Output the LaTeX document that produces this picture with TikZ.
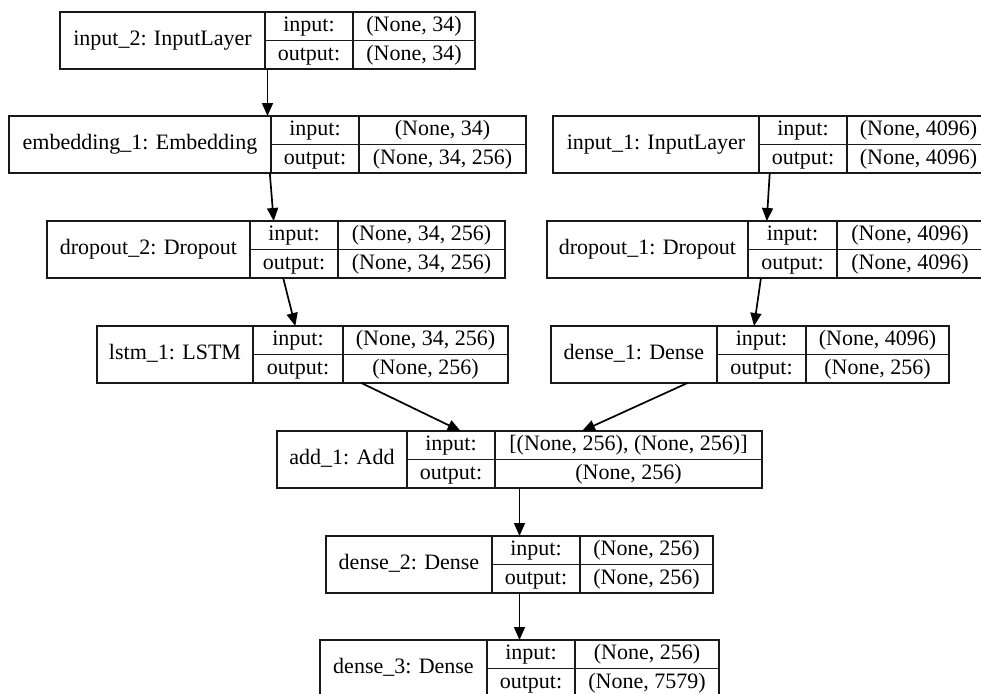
\documentclass[tikz,border=0pt]{standalone}
\usepackage{fontspec}
\setmainfont{Liberation Serif}
\usepackage{tikz}
\usetikzlibrary{arrows.meta}

% one keras layer record: id, left, divider 1, divider 2, right, top, name, input, output
\newcommand{\layerrec}[9]{%
  \node[layerbox, minimum width={(#5-#2)*0.5pt}] (#1) at ({(#2+#5)/2},{#6+28.5}) {};
  \draw[rule] (#3,#6) -- (#3,#6+57) (#4,#6) -- (#4,#6+57) (#3,#6+28.5) -- (#5,#6+28.5);
  \node[celltext] (#1-name) at ({(#2+#3)/2},{#6+28.5}) {#7};
  \node[celltext] (#1-ik) at ({(#3+#4)/2},{#6+14.25}) {input:};
  \node[celltext] (#1-iv) at ({(#4+#5)/2},{#6+14.25}) {#8};
  \node[celltext] (#1-ok) at ({(#3+#4)/2},{#6+42.75}) {output:};
  \node[celltext] (#1-ov) at ({(#4+#5)/2},{#6+42.75}) {#9};
}

\begin{document}
\begin{tikzpicture}[x=0.5pt, y=-0.5pt, >={Triangle[length=6.5pt, width=5.5pt]},
    rule/.style={line width=0.85pt, draw=black!90},
    layerbox/.style={rule, rectangle, minimum height=28.5pt, inner sep=0pt, outer sep=0pt},
    celltext/.style={inner sep=0pt, text height=7.6pt, text depth=2.3pt, font=\fontsize{11}{13}\selectfont},
    flow/.style={->, rule, draw=black}]
    \useasboundingbox (0,0) rectangle (981,693);
    \clip (0,0) rectangle (981,693);

    % Caption branch
    \layerrec{inputB}{60}{265}{353}{475}{12}{input\_2: InputLayer}{(None, 34)}{(None, 34)}
    \layerrec{embed}{9}{271}{359}{526}{116}{embedding\_1: Embedding}{(None, 34)}{(None, 34, 256)}
    \layerrec{dropB}{47}{250}{338}{505}{221}{dropout\_2: Dropout}{(None, 34, 256)}{(None, 34, 256)}
    \layerrec{lstm}{97}{253}{343}{508}{326}{lstm\_1: LSTM}{(None, 34, 256)}{(None, 256)}

    % Image feature branch
    \layerrec{inputA}{553}{759}{847}{990}{116}{input\_1: InputLayer}{(None, 4096)}{(None, 4096)}
    \layerrec{dropA}{547}{748}{837}{983}{221}{dropout\_1: Dropout}{(None, 4096)}{(None, 4096)}
    \layerrec{denseA}{551}{717}{806}{949}{326}{dense\_1: Dense}{(None, 4096)}{(None, 256)}

    % Merge and decoder
    \layerrec{add}{277}{407}{495}{762}{431}{add\_1: Add}{[(None, 256), (None, 256)]}{(None, 256)}
    \layerrec{denseB}{326}{492}{580}{713}{536}{dense\_2: Dense}{(None, 256)}{(None, 256)}
    \layerrec{denseC}{320}{487}{575}{719}{640}{dense\_3: Dense}{(None, 256)}{(None, 7579)}

    % Edges
    \draw[flow] (inputB) -- (embed);
    \draw[flow] (embed) -- (dropB);
    \draw[flow] (dropB) -- (lstm);
    \draw[flow] (inputA) -- (dropA);
    \draw[flow] (dropA) -- (denseA);
    \draw[flow] (lstm) -- (add);
    \draw[flow] (denseA) -- (add);
    \draw[flow] (add) -- (denseB);
    \draw[flow] (denseB) -- (denseC);
\end{tikzpicture}
\end{document}
